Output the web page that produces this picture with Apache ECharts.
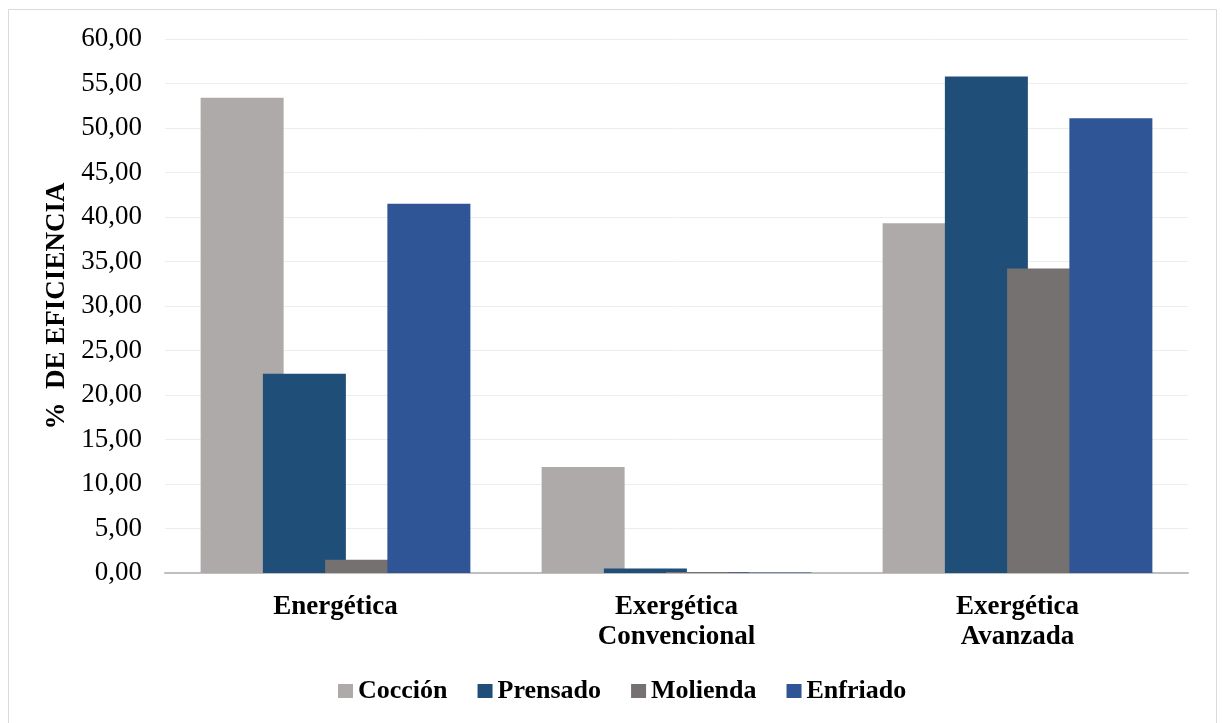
<!DOCTYPE html>
<html>
<head>
<meta charset="utf-8">
<script src="https://cdn.jsdelivr.net/npm/echarts@6/dist/echarts.min.js"></script>
<style>
  html, body { margin: 0; padding: 0; background: #ffffff; }
  #chart { width: 1222px; height: 723px; }
</style>
</head>
<body>
<div id="chart"></div>
<script>
// Efficiency analysis categories and per-process values (%)
const categories = ['Energética', 'Exergética\nConvencional', 'Exergética\nAvanzada'];
const coccion  = [53.40, 11.90, 39.30];
const prensado = [22.40, 0.50, 55.80];
const molienda = [1.50, 0.12, 34.20];
const enfriado = [41.50, 0.05, 51.10];
const seriesNames = ['Cocción', 'Prensado', 'Molienda', 'Enfriado'];
const seriesColors = ['#AEAAAA', '#1F4E79', '#767171', '#2F5597'];

const serif = '"Liberation Serif", "Times New Roman", serif';
const chart = echarts.init(document.getElementById('chart'));

const dataSets = [coccion, prensado, molienda, enfriado];
const series = dataSets.map((d, i) => ({
  name: seriesNames[i],
  type: 'bar',
  data: d,
  barWidth: 83,
  barGap: '-25%',
  itemStyle: { color: seriesColors[i] }
}));

chart.setOption({
  animation: false,
  graphic: [{
    type: 'rect',
    shape: { x: 8.5, y: 9.5, width: 1208, height: 730 },
    style: { fill: 'none', stroke: '#d9d9d9', lineWidth: 1 },
    silent: true
  }],
  grid: { left: 165, right: 34, top: 39, bottom: 150 },
  legend: {
    top: 673,
    left: 333,
    itemWidth: 15,
    itemHeight: 14,
    itemGap: 30,
    icon: 'rect',
    textStyle: { fontFamily: serif, fontSize: 26, fontWeight: 'bold', color: '#000' },
    data: seriesNames
  },
  xAxis: {
    type: 'category',
    data: categories,
    axisLine: { lineStyle: { color: '#BFBFBF', width: 2 } },
    axisTick: { show: false },
    axisLabel: {
      fontFamily: serif, fontSize: 27, fontWeight: 'bold', color: '#000',
      margin: 19, lineHeight: 30
    }
  },
  yAxis: {
    type: 'value',
    min: 0,
    max: 60,
    interval: 5,
    name: '%  DE EFICIENCIA',
    nameLocation: 'middle',
    nameGap: 87,
    nameRotate: 90,
    nameTextStyle: { fontFamily: serif, fontSize: 27, fontWeight: 'bold', color: '#000' },
    axisLine: { show: false },
    axisTick: { show: false },
    splitLine: { lineStyle: { color: '#EDEDED', width: 1 } },
    axisLabel: {
      fontFamily: serif, fontSize: 27, color: '#000', margin: 23,
      formatter: v => v.toFixed(2).replace('.', ',')
    }
  },
  series: series
});
</script>
</body>
</html>
